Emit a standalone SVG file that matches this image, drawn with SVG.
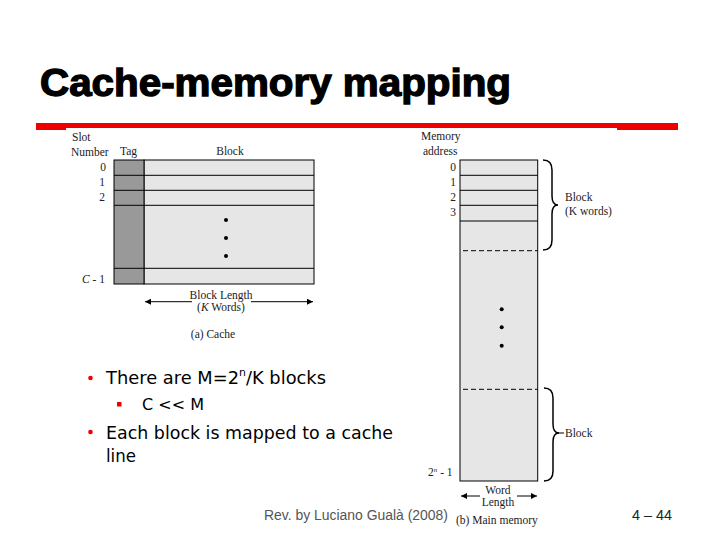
<svg xmlns="http://www.w3.org/2000/svg" width="720" height="540" viewBox="0 0 720 540">
<defs>
<marker id="ah" viewBox="0 0 10 10" refX="10" refY="5" markerWidth="7" markerHeight="6" orient="auto-start-reverse" markerUnits="userSpaceOnUse"><path d="M0,0 L10,5 L0,10 z" fill="#000"/></marker>
<style>
.t{font-family:"Liberation Serif","Times New Roman",serif;font-size:11.5px;fill:#222}
.b{font-family:"DejaVu Sans",Verdana,sans-serif;fill:#000}
.cell{fill:#e6e6e6;stroke:#000;stroke-width:1}
.tag{fill:#999;stroke:#000;stroke-width:1}
.ln{stroke:#000;stroke-width:1;fill:none}
.dash{stroke:#000;stroke-width:1;stroke-dasharray:5,3;fill:none}
.br{stroke:#000;stroke-width:1.5;fill:none}
</style>
</defs>
<rect width="720" height="540" fill="#fff"/>
<text x="40" y="96" font-family="Liberation Sans,Arial,sans-serif" font-weight="bold" font-size="38" stroke="#000" stroke-width="1.3" textLength="471" lengthAdjust="spacingAndGlyphs">Cache-memory mapping</text>
<rect x="36" y="123" width="642" height="7" fill="#e00"/>
<rect x="66" y="128" width="551" height="2" fill="#fff"/>

<g id="cache">
<rect class="cell" x="144" y="160" width="170" height="124"/>
<rect class="tag" x="114" y="160" width="30" height="124"/>
<path class="ln" d="M114,175.3H314M114,190.3H314M114,205.3H314M114,268.3H314"/>
<circle cx="226" cy="220" r="2"/><circle cx="226" cy="238" r="2"/><circle cx="226" cy="256" r="2"/>
<text class="t" x="72" y="141">Slot</text>
<text class="t" x="71" y="156">Number</text>
<text class="t" x="120" y="155">Tag</text>
<text class="t" x="230" y="155" text-anchor="middle">Block</text>
<text class="t" x="103" y="171" text-anchor="middle">0</text>
<text class="t" x="102" y="186" text-anchor="middle">1</text>
<text class="t" x="102" y="201" text-anchor="middle">2</text>
<text class="t" x="82" y="283"><tspan font-style="italic">C</tspan> - 1</text>
<path class="ln" d="M192,301.7H145" marker-end="url(#ah)"/>
<path class="ln" d="M251,301.7H313" marker-end="url(#ah)"/>
<text class="t" x="221" y="299" text-anchor="middle" font-size="10.5">Block Length</text>
<text class="t" x="221" y="311" text-anchor="middle" font-size="10.5">(<tspan font-style="italic">K</tspan> Words)</text>
<text class="t" x="213" y="338" text-anchor="middle">(a) Cache</text>
</g>

<g id="memory">
<rect class="cell" x="460" y="160" width="77.7" height="321"/>
<path class="ln" d="M460,175.3H537.7M460,190.3H537.7M460,205.3H537.7M460,221H537.7"/>
<path class="dash" d="M463,250.7H537.7M463,389.3H537.7"/>
<circle cx="501.7" cy="309.3" r="2"/><circle cx="501.7" cy="327.3" r="2"/><circle cx="501.7" cy="345.7" r="2"/>
<text class="t" x="421" y="140">Memory</text>
<text class="t" x="423" y="155">address</text>
<text class="t" x="453" y="171" text-anchor="middle">0</text>
<text class="t" x="453" y="186" text-anchor="middle">1</text>
<text class="t" x="453" y="201" text-anchor="middle">2</text>
<text class="t" x="453" y="216" text-anchor="middle">3</text>
<text class="t" x="428" y="476">2<tspan font-size="7" dy="-4" font-style="italic">n</tspan><tspan dy="4"> - 1</tspan></text>
<path class="ln" d="M480,496H461" marker-end="url(#ah)"/>
<path class="ln" d="M517,496H537" marker-end="url(#ah)"/>
<text class="t" x="498" y="494" text-anchor="middle" font-size="10.5">Word</text>
<text class="t" x="498" y="506" text-anchor="middle" font-size="10.5">Length</text>
<text class="t" x="456" y="524" font-size="12">(b) Main memory</text>
</g>

<g id="braces">
<path class="br" d="M543,160 Q552,160 552,170 L552,196 Q552,205 558,205 Q552,205 552,214 L552,240 Q552,250 543,250"/>
<text class="t" x="565" y="201">Block</text>
<text class="t" x="565" y="215">(K words)</text>
<path class="br" d="M544,388 Q553,388 553,398 L553,424 Q553,433 559,433 Q553,433 553,442 L553,471 Q553,481 544,481"/>
<path class="ln" d="M558,433H564"/>
<text class="t" x="565" y="437">Block</text>
</g>

<g id="bullets">
<circle cx="90.5" cy="378" r="2.3" fill="#e00"/>
<text class="b" x="106" y="384" font-size="18" textLength="220" lengthAdjust="spacingAndGlyphs">There are M=2<tspan font-size="11" dy="-8">n</tspan><tspan dy="8">/K blocks</tspan></text>
<rect x="117" y="402" width="4.5" height="4.5" fill="#e00"/>
<text class="b" x="142" y="410" font-size="16" textLength="62" lengthAdjust="spacingAndGlyphs">C &lt;&lt; M</text>
<circle cx="90.5" cy="432" r="2.3" fill="#e00"/>
<text class="b" x="106" y="439" font-size="18" textLength="287" lengthAdjust="spacingAndGlyphs">Each block is mapped to a cache</text>
<text class="b" x="106" y="462" font-size="18" textLength="30" lengthAdjust="spacingAndGlyphs">line</text>
</g>

<text x="264" y="520" font-family="Liberation Sans,Arial,sans-serif" font-size="14" fill="#555" textLength="184" lengthAdjust="spacingAndGlyphs">Rev. by Luciano Gualà (2008)</text>
<text x="632" y="520" font-family="Liberation Sans,Arial,sans-serif" font-size="14" fill="#222" textLength="40" lengthAdjust="spacingAndGlyphs">4 – 44</text>
</svg>
